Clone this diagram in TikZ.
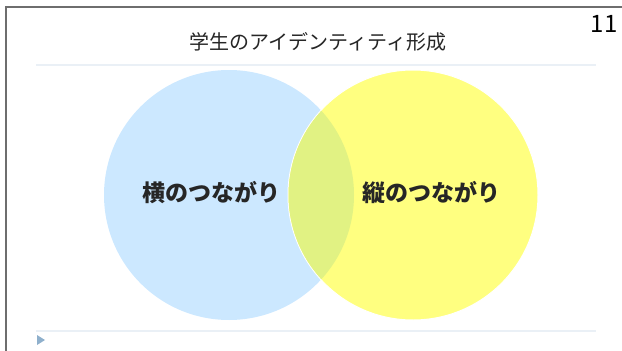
\documentclass[tikz,border=0pt]{standalone}
\usepackage{fontspec}
\newfontfamily\cjk{Noto Sans CJK JP}
\usetikzlibrary{positioning}

\definecolor{leftblue}{HTML}{CCE8FF}
\definecolor{rightyellow}{HTML}{FFFF80}
\definecolor{overlapgreen}{HTML}{E1F283}
\definecolor{rulegray}{HTML}{EAF0F6}
\definecolor{framegray}{HTML}{6E6E6E}
\definecolor{markblue}{HTML}{8FB0CC}

\begin{document}
\begin{tikzpicture}[
    x=1pt, y=-1pt,
    venn/.style={circle, minimum size=250pt, inner sep=0pt},
    setname/.style={font=\cjk\bfseries\fontsize{23pt}{23pt}\selectfont, text=black!85},
    rule/.style={draw=rulegray, line width=2pt}
]
    \useasboundingbox (0,0) rectangle (622,351);

    % Sets
    \node[venn, fill=leftblue] (horiz) at (229,195) {};
    \node[venn, fill=rightyellow, draw=white, line width=1pt] (vert) at (413,195) {};
    \begin{scope}
        \clip (229,195) circle (125);
        \fill[overlapgreen] (413,195) circle (124.5);
    \end{scope}

    % Set labels
    \node[setname] (horizlabel) at (211,193) {横のつながり};
    \node[setname] (vertlabel) at (431,193) {縦のつながり};

    % Title and page number
    \node[font=\cjk\fontsize{20pt}{20pt}\selectfont, text=black!85] (title) at (318,42) {学生のアイデンティティ形成};
    \node[font=\cjk\fontsize{24pt}{24pt}\selectfont] (pagenum) at (604,24) {11};

    % Rules
    \draw[rule] (36,65) -- (596,65);
    \draw[rule] (36,331) -- (596,331);
    \fill[markblue] (37,335) -- (45,340) -- (37,345) -- cycle;

    % Frame
    \draw[framegray, line width=1.5pt] (6,351) -- (6,7) -- (622,7);
\end{tikzpicture}
\end{document}
